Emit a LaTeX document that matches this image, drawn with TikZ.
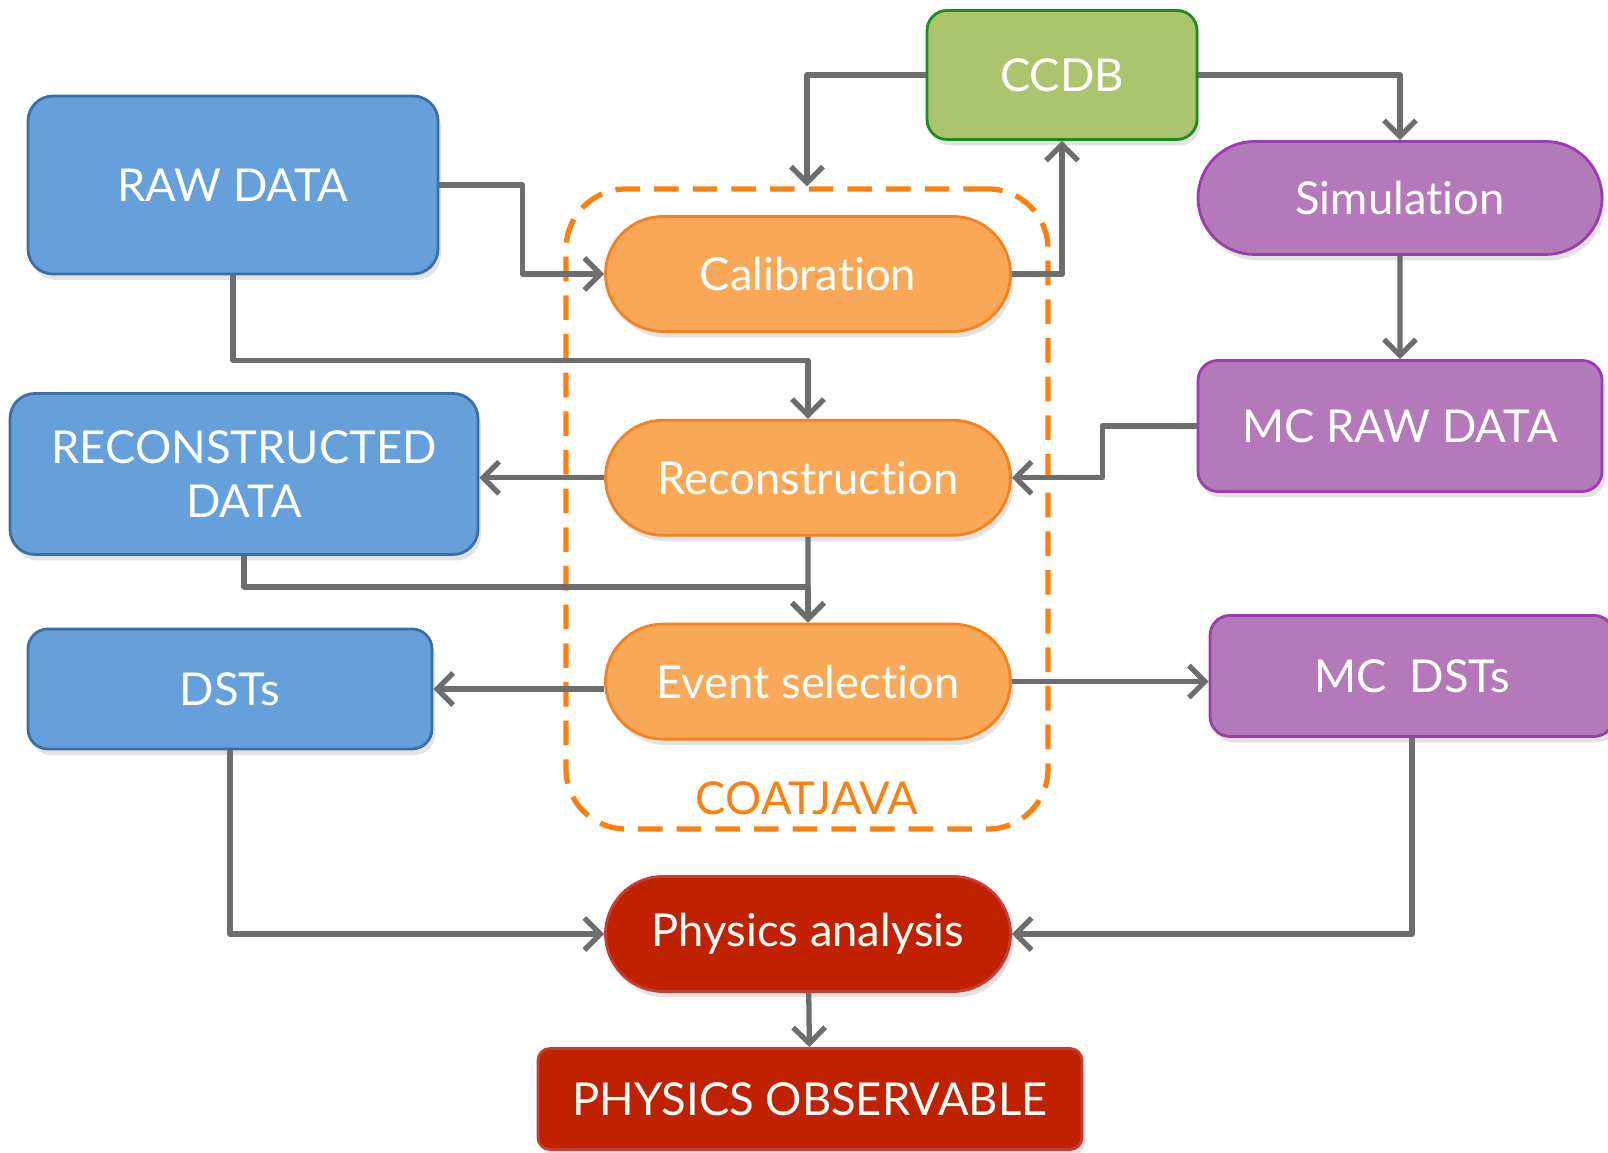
\documentclass[tikz,border=0pt]{standalone}
\usepackage{fontspec}
\setmainfont{Lato}[Ligatures={NoCommon}]
\usepackage{tikz}
\usetikzlibrary{arrows.meta,positioning,shapes.misc,shadows,calc}
\usepackage{xcolor}
\definecolor{datafill}{HTML}{65A0DB}
\definecolor{dataline}{HTML}{3C6EA5}
\definecolor{dbfill}{HTML}{ABC46E}
\definecolor{dbline}{HTML}{1E8C1E}
\definecolor{mcfill}{HTML}{B379B8}
\definecolor{mcline}{HTML}{9B3CAF}
\definecolor{stepfill}{HTML}{F9A857}
\definecolor{stepline}{HTML}{F5821E}
\definecolor{anafill}{HTML}{C02200}
\definecolor{analine}{HTML}{C83C32}
\definecolor{flowgray}{HTML}{6D6D6D}
\definecolor{coatorange}{HTML}{FF7F0E}

\begin{document}
\begin{tikzpicture}[node distance=0.86cm and 1.4cm,>={Straight Barb[length=1.6mm,width=3.2mm]}, every node/.style={font=\fontsize{12.9}{15.5}\selectfont,text=white}]
\tikzstyle{box}=[draw,line width=0.8pt,align=center,inner sep=0pt,drop shadow={opacity=0.22,shadow xshift=0.3mm,shadow yshift=-0.6mm}]
\tikzstyle{databox}=[box,draw=dataline,fill=datafill,rounded corners=0.25cm]
\tikzstyle{mcbox}=[box,draw=mcline,fill=mcfill,rounded corners=0.2cm,minimum width=4.04cm]
\tikzstyle{stepbox}=[box,rounded rectangle,draw=stepline,fill=stepfill,minimum width=4.05cm,minimum height=1.15cm]
\tikzstyle{flow}=[draw=flowgray,line width=1.5pt,line join=round]
\useasboundingbox (0,0) rectangle (16.08,11.53);
\node[coatorange,draw,dashed,line width=1.5pt,dash pattern=on 7pt off 4pt,rounded corners=0.6cm,minimum width=4.82cm,minimum height=6.40cm] (coat) at (8.07,6.44) {};
\node[text=coatorange] (coatlabel) at (8.07,3.55) {COATJAVA};
\node[stepbox] (calib) at (8.08,8.79) {Calibration};
\node[stepbox,below=of calib] (reco) {Reconstruction};
\node[stepbox,below=of reco] (event) {Event selection};
\node[stepbox,fill=anafill,draw=analine] (phys) at (8.08,2.19) {Physics analysis};
\node[box,draw=analine,fill=anafill,rounded corners=0.12cm,minimum width=5.44cm,minimum height=1.01cm] (obs) at (8.10,0.54) {PHYSICS OBSERVABLE};
\node[databox,minimum width=4.10cm,minimum height=1.78cm] (raw) at (2.33,9.68) {RAW DATA};
\node[databox,minimum width=4.68cm,minimum height=1.61cm] (recdata) at (2.44,6.79) {RECONSTRUCTED\\DATA};
\node[databox,minimum width=4.04cm,minimum height=1.20cm,rounded corners=0.2cm] (dsts) at (2.30,4.64) {DSTs};
\node[box,draw=dbline,fill=dbfill,rounded corners=0.2cm,minimum width=2.70cm,minimum height=1.29cm] (ccdb) at (10.62,10.78) {CCDB};
\node[box,rounded rectangle,draw=mcline,fill=mcfill,minimum width=4.04cm,minimum height=1.13cm] (sim) at (14.00,9.55) {Simulation};
\node[mcbox,minimum height=1.31cm] (mcraw) at (14.00,7.27) {MC RAW DATA};
\node[mcbox,minimum height=1.21cm] (mcdst) at (14.12,4.77) {MC~ DSTs};
\draw[flow,->] (raw.east) -- ++(0.83,0) |- (calib.west);
\draw[flow,->] (raw.south) -- ++(0,-0.85) -| (reco.north);
\draw[flow,->] (ccdb.west) -| (coat.north);
\draw[flow,->] (calib.east) -| (ccdb.south);
\draw[flow,->] (ccdb.east) -| (sim.north);
\draw[flow,->] (sim) -- (mcraw);
\draw[flow,->] (mcraw.west) -- ++(-0.94,0) |- (reco.east);
\draw[flow,->] (reco.west) -- (reco.west -| recdata.east);
\draw[flow,->] (reco) -- (event);
\draw[flow,->] (recdata.south) -- ++(0,-0.31) -| (event.north);
\draw[flow,->] (event.west |- dsts.east) -- (dsts.east);
\draw[flow,->] (event.east) -- (event.east -| mcdst.west);
\draw[flow,->] (dsts.south) |- (phys.west);
\draw[flow,->] (mcdst.south) |- (phys.east);
\draw[flow,->] (phys) -- (obs);
\end{tikzpicture}
\end{document}
